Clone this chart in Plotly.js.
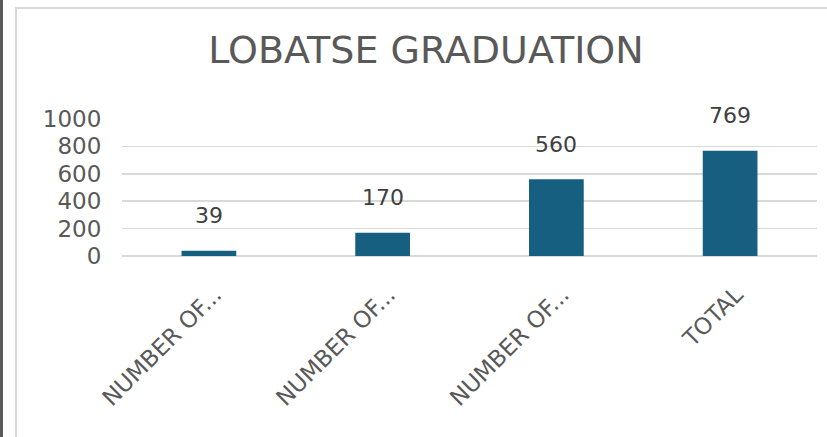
<!DOCTYPE html>
<html>
<head>
<meta charset="utf-8">
<script src="https://cdn.plot.ly/plotly-3.0.1.min.js"></script>
<style>
  html, body { margin: 0; padding: 0; background: #ffffff; }
  #wrap { position: relative; width: 827px; height: 437px; overflow: hidden; }
  #darkEdge { position: absolute; left: 0; top: 0; width: 3px; height: 437px; background: #5a5a5a; }
  #frame { position: absolute; left: 15px; top: 7px; width: 830px; height: 440px;
           border-left: 2px solid #d9d9d9; border-top: 2px solid #d9d9d9; }
  #chart { position: absolute; left: 0; top: 0; width: 827px; height: 437px; }
</style>
</head>
<body>
<div id="wrap">
  <div id="darkEdge"></div>
  <div id="frame"></div>
  <div id="chart"></div>
</div>
<script>
const categories = ["NUMBER OF... (1)", "NUMBER OF... (2)", "NUMBER OF... (3)", "TOTAL"];
const tickLabels = ["NUMBER OF...", "NUMBER OF...", "NUMBER OF...", "TOTAL"];
const values = [39, 170, 560, 769];
const yTicks = [0, 200, 400, 600, 800, 1000];
const chartTitle = "LOBATSE GRADUATION";

const FONT = "DejaVu Sans, Noto Sans, sans-serif";

const trace = {
  type: "bar",
  x: categories,
  y: values,
  marker: { color: "#175f80" },
  hoverinfo: "skip"
};

const annotations = categories.map((c, i) => ({
  x: c, y: values[i], xref: "x", yref: "y",
  text: String(values[i]), showarrow: false,
  yanchor: "middle", yshift: 35,
  font: { family: FONT, size: 22, color: "#404040" }
}));

const layout = {
  width: 827, height: 437,
  margin: { l: 122, r: 10, t: 119, b: 181 },
  paper_bgcolor: "rgba(0,0,0,0)",
  plot_bgcolor: "rgba(0,0,0,0)",
  showlegend: false,
  bargap: 0.685,
  title: {
    text: chartTitle,
    x: 426 / 827, xref: "container", xanchor: "center",
    y: 1 - 50 / 437, yref: "container", yanchor: "middle",
    font: { family: FONT, size: 38, color: "#595959" }
  },
  xaxis: {
    type: "category",
    range: [-0.5, 3.5],
    tickvals: categories,
    ticktext: tickLabels,
    tickangle: -45,
    ticks: "outside", ticklen: 15, tickcolor: "rgba(0,0,0,0)",
    ticklabelshift: 6,
    showgrid: false, zeroline: false, showline: false,
    tickfont: { family: FONT, size: 23, color: "#595959" },
    fixedrange: true
  },
  yaxis: {
    range: [0, 1000],
    tickvals: yTicks,
    ticktext: yTicks.map(String),
    ticks: "outside", ticklen: 15, tickcolor: "rgba(0,0,0,0)",
    showgrid: true, gridcolor: "#d9d9d9", gridwidth: 1.5,
    zeroline: true, zerolinecolor: "#d9d9d9", zerolinewidth: 1.5,
    showline: false,
    tickfont: { family: FONT, size: 23, color: "#595959" },
    fixedrange: true
  },
  annotations: annotations
};

Plotly.newPlot("chart", [trace], layout, { displayModeBar: false, staticPlot: true });
</script>
</body>
</html>
